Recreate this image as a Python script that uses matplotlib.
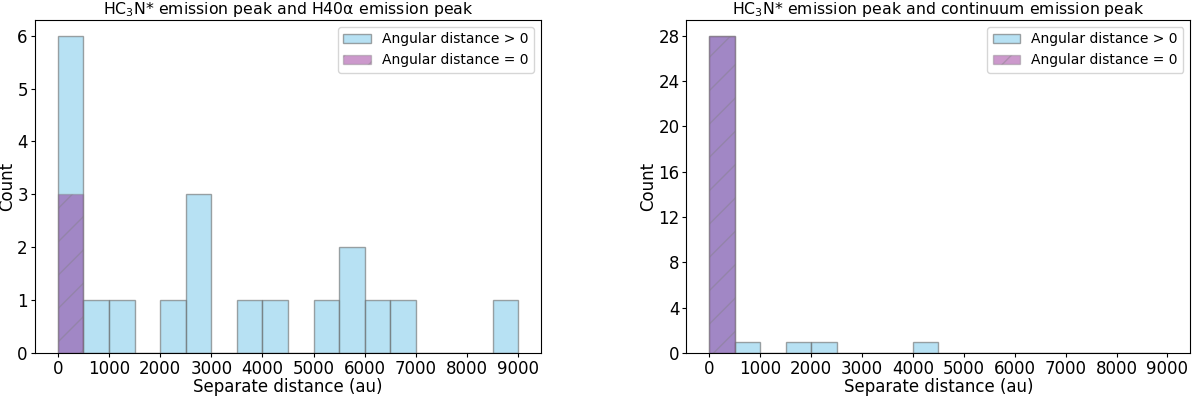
import matplotlib
matplotlib.use("Agg")
import matplotlib.pyplot as plt
import numpy as np

# bins of 500 au from 0 to 9000
bin_edges = np.arange(0, 9001, 500)

# left panel: HC3N* vs H40a
h40_any = [6, 1, 1, 0, 1, 3, 0, 1, 1, 0, 1, 2, 1, 1, 0, 0, 0, 1]
h40_zero = [3, 0, 0, 0, 0, 0, 0, 0, 0, 0, 0, 0, 0, 0, 0, 0, 0, 0]

# right panel: HC3N* vs continuum
cont_any = [28, 1, 0, 1, 1, 0, 0, 0, 1, 0, 0, 0, 0, 0, 0, 0, 0, 0]
cont_zero = [28, 0, 0, 0, 0, 0, 0, 0, 0, 0, 0, 0, 0, 0, 0, 0, 0, 0]

titles = [r"HC$_3$N* emission peak and H40α emission peak",
          r"HC$_3$N* emission peak and continuum emission peak"]
lab_any = "Angular distance > 0"
lab_zero = "Angular distance = 0"

fig = plt.figure(figsize=(12, 3.96), dpi=100)
ax1 = fig.add_axes([0.029, 0.109, 0.422, 0.841])
ax2 = fig.add_axes([0.572, 0.109, 0.42, 0.841])

centers = bin_edges[:-1] + 250
for ax, any_c, zero_c, title in [(ax1, h40_any, h40_zero, titles[0]),
                                  (ax2, cont_any, cont_zero, titles[1])]:
    ax.hist(centers, bins=bin_edges, weights=any_c, color="skyblue",
            edgecolor="dimgrey", alpha=0.6, label=lab_any)
    ax.hist(centers, bins=bin_edges, weights=zero_c, color="purple",
            edgecolor="grey", alpha=0.4, hatch="/", label=lab_zero)
    ax.set_xticks(np.arange(0, 9001, 1000))
    ax.set_xlabel("Separate distance (au)", fontsize=12, labelpad=0)
    ax.set_ylabel("Count", fontsize=12, labelpad=1)
    ax.set_title(title, fontsize=11.3, pad=4)
    ax.tick_params(labelsize=12, length=3, pad=2)
    ax.legend(loc="upper right", fontsize=10)

ax2.set_yticks(np.arange(0, 29, 4))

fig.savefig("out.png", dpi=100)
